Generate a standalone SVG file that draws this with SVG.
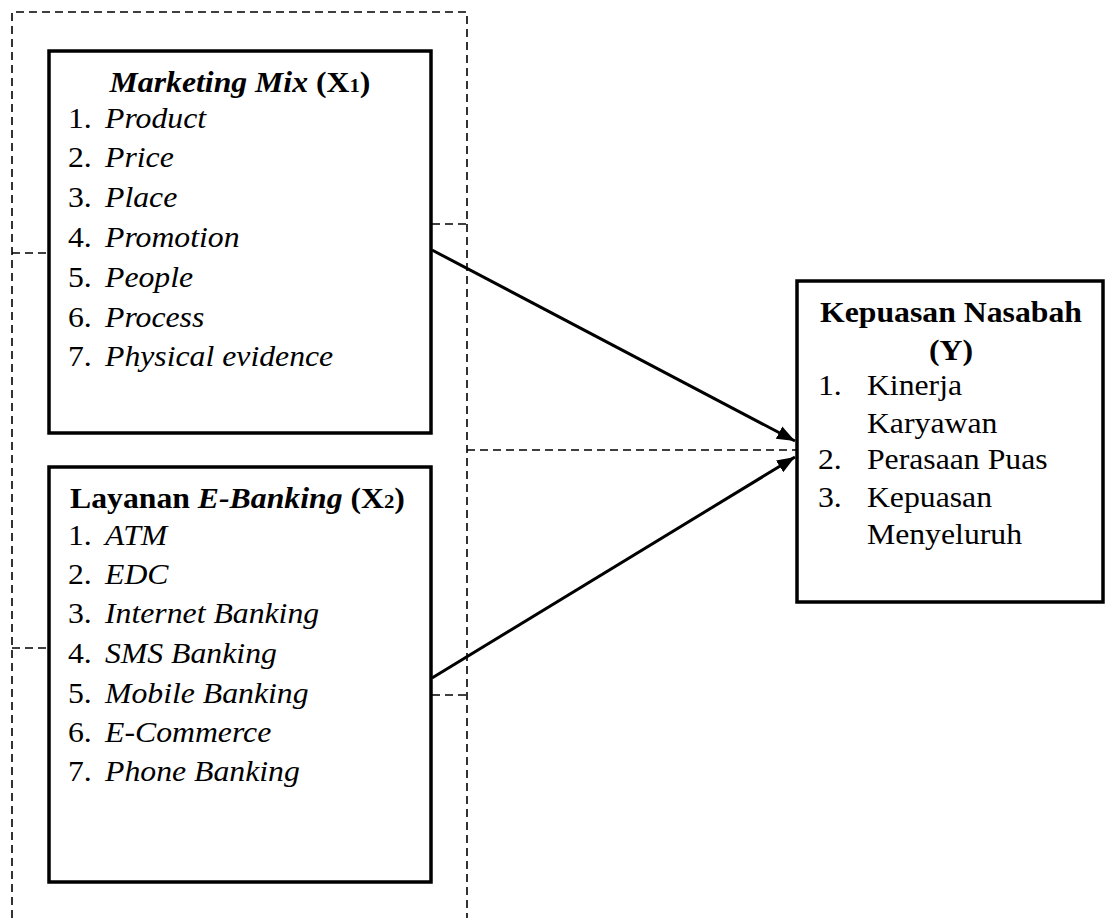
<svg xmlns="http://www.w3.org/2000/svg" width="1105" height="923" viewBox="0 0 1105 923">
  <style>
    .box { fill: #ffffff; stroke: #000000; stroke-width: 3.5; }
    .dash { fill: none; stroke: #000000; stroke-width: 1.6; stroke-dasharray: 8 5; }
    .link { fill: none; stroke: #000000; stroke-width: 3; }
    text { font-family: "Liberation Serif", "Times New Roman", serif; font-size: 29px; fill: #000000; }
    .b { font-weight: bold; }
    .i { font-style: italic; }
    .sub { font-size: 19px; }
  </style>
  <defs>
    <marker id="arrow" markerUnits="userSpaceOnUse" markerWidth="20" markerHeight="16" refX="18" refY="8" orient="auto">
      <path d="M0,1 L18,8 L0,15 Z" fill="#000000"/>
    </marker>
  </defs>

  <!-- dashed grouping frame around the independent variables and the combined-effect path -->
  <g id="connectors">
    <path class="dash" d="M12,918 L12,12 L467,12 L467,918"/>
    <line class="dash" x1="12" y1="253" x2="48" y2="253"/>
    <line class="dash" x1="432" y1="224" x2="467" y2="224"/>
    <line class="dash" x1="12" y1="648" x2="48" y2="648"/>
    <line class="dash" x1="432" y1="695" x2="467" y2="695"/>
    <line class="dash" x1="467" y1="450" x2="796" y2="450"/>
    <line class="link" x1="432" y1="250" x2="795" y2="441" marker-end="url(#arrow)"/>
    <line class="link" x1="432" y1="678" x2="795" y2="457" marker-end="url(#arrow)"/>
  </g>

  <!-- X1: Marketing Mix -->
  <g id="node-x1">
    <rect class="box" x="49" y="51" width="382" height="382"/>
    <g transform="translate(240,0) scale(1.095,1)">
      <text x="0" y="92" text-anchor="middle" class="b"><tspan class="i">Marketing Mix</tspan> (X<tspan class="sub">1</tspan>)</text>
    </g>
    <g transform="translate(68,0) scale(1.095,1)">
      <text x="0" y="128">1.<tspan class="i" x="33.8">Product</tspan></text>
      <text x="0" y="167">2.<tspan class="i" x="33.8">Price</tspan></text>
      <text x="0" y="207">3.<tspan class="i" x="33.8">Place</tspan></text>
      <text x="0" y="247">4.<tspan class="i" x="33.8">Promotion</tspan></text>
      <text x="0" y="287">5.<tspan class="i" x="33.8">People</tspan></text>
      <text x="0" y="327">6.<tspan class="i" x="33.8">Process</tspan></text>
      <text x="0" y="366">7.<tspan class="i" x="33.8">Physical evidence</tspan></text>
    </g>
  </g>

  <!-- X2: Layanan E-Banking -->
  <g id="node-x2">
    <rect class="box" x="49" y="467" width="382" height="415"/>
    <g transform="translate(70,0) scale(1.095,1)">
      <text x="0" y="508" class="b">Layanan <tspan class="i">E-Banking</tspan> (X<tspan class="sub">2</tspan>)</text>
    </g>
    <g transform="translate(68,0) scale(1.095,1)">
      <text x="0" y="545">1.<tspan class="i" x="33.8">ATM</tspan></text>
      <text x="0" y="584">2.<tspan class="i" x="33.8">EDC</tspan></text>
      <text x="0" y="623">3.<tspan class="i" x="33.8">Internet Banking</tspan></text>
      <text x="0" y="663">4.<tspan class="i" x="33.8">SMS Banking</tspan></text>
      <text x="0" y="703">5.<tspan class="i" x="33.8">Mobile Banking</tspan></text>
      <text x="0" y="742">6.<tspan class="i" x="33.8">E-Commerce</tspan></text>
      <text x="0" y="781">7.<tspan class="i" x="33.8">Phone Banking</tspan></text>
    </g>
  </g>

  <!-- Y: Kepuasan Nasabah -->
  <g id="node-y">
    <rect class="box" x="797" y="281" width="306" height="321"/>
    <g transform="translate(951,0) scale(1.095,1)">
      <text x="0" y="322" text-anchor="middle" class="b">Kepuasan Nasabah</text>
      <text x="0" y="360" text-anchor="middle" class="b">(Y)</text>
    </g>
    <g transform="translate(818,0) scale(1.095,1)">
      <text x="0" y="395">1.<tspan x="44.7">Kinerja</tspan></text>
      <text x="44.7" y="433">Karyawan</text>
      <text x="0" y="469">2.<tspan x="44.7">Perasaan Puas</tspan></text>
      <text x="0" y="507">3.<tspan x="44.7">Kepuasan</tspan></text>
      <text x="44.7" y="544">Menyeluruh</text>
    </g>
  </g>
</svg>
